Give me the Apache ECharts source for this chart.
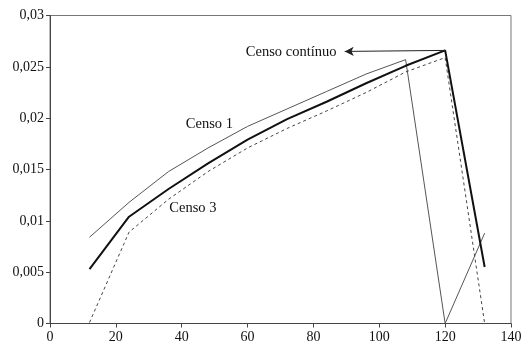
<!DOCTYPE html>
<html><head><meta charset="utf-8">
<script src="https://cdn.jsdelivr.net/npm/echarts@6/dist/echarts.min.js"></script>
<style>html,body{margin:0;padding:0;background:#fff}#c{width:527px;height:346px}</style>
</head><body><div id="c"></div>
<script>
const ages = [12, 24, 36, 48, 60, 72, 84, 96, 108, 120, 132];
const censo1 = [0.0084, 0.0118, 0.0148, 0.0171, 0.0192, 0.0209, 0.0226, 0.0243, 0.0257, 0, 0.0088];
const censoContinuo = [0.0053, 0.0104, 0.0131, 0.0156, 0.0179, 0.0199, 0.0216, 0.0234, 0.0251, 0.0266, 0.0055];
const censo3 = [0.0001, 0.0089, 0.0121, 0.0148, 0.0171, 0.0190, 0.0207, 0.0225, 0.0245, 0.0259, 0];
const xTicks = [0, 20, 40, 60, 80, 100, 120, 140];
const yTicks = [0, 0.005, 0.01, 0.015, 0.02, 0.025, 0.03];
const labelCenso1 = ['Censo 1', 48.4, 0.0194];
const labelCenso3 = ['Censo 3', 43.4, 0.0112];
const labelContinuo = ['Censo contínuo', 87, 0.0264];
const arrowFrom = [120, 0.0266];
const arrowTo = [89.5, 0.0265];

const pair = (xs, ys) => xs.map((x, i) => [x, ys[i]]);
const fmt = v => String(Math.round(v * 1000) / 1000).replace('.', ',');
const serif = '"Liberation Serif", "DejaVu Serif", serif';
const textPoint = (t, align) => ({
  coord: [t[1], t[2]], value: t[0],
  symbol: 'circle', symbolSize: 0,
  label: { show: true, position: 'inside', formatter: t[0], color: '#111', fontFamily: serif, fontSize: 14.5, align: align, verticalAlign: 'middle' }
});

const chart = echarts.init(document.getElementById('c'), null, { renderer: 'canvas' });
chart.setOption({
  animation: false,
  backgroundColor: '#fff',
  grid: { left: 50, right: 16, top: 15.5, bottom: 22.5, show: true, borderColor: '#777', borderWidth: 1 },
  xAxis: {
    type: 'value', min: xTicks[0], max: xTicks[xTicks.length - 1], interval: 20,
    axisLine: { lineStyle: { color: '#444', width: 1 } },
    axisTick: { show: true, length: 4, lineStyle: { color: '#444' } },
    splitLine: { show: false },
    axisLabel: { color: '#111', fontFamily: serif, fontSize: 14, margin: 7 }
  },
  yAxis: {
    type: 'value', min: yTicks[0], max: yTicks[yTicks.length - 1], interval: 0.005,
    axisLine: { show: true, lineStyle: { color: '#444', width: 1 } },
    axisTick: { show: true, length: 4, lineStyle: { color: '#444' } },
    splitLine: { show: false },
    axisLabel: { color: '#111', fontFamily: serif, fontSize: 14, margin: 6, formatter: fmt }
  },
  series: [
    {
      name: 'Censo 1', type: 'line', data: pair(ages, censo1), symbol: 'none',
      lineStyle: { color: '#555', width: 1 },
      markPoint: { data: [textPoint(labelCenso1, 'center')] }
    },
    {
      name: 'Censo 3', type: 'line', data: pair(ages, censo3), symbol: 'none',
      lineStyle: { color: '#444', width: 1, type: [3, 3] },
      markPoint: { data: [textPoint(labelCenso3, 'center')] }
    },
    {
      name: 'Censo contínuo', type: 'line', data: pair(ages, censoContinuo), symbol: 'none',
      lineStyle: { color: '#111', width: 2 },
      markPoint: { data: [textPoint(labelContinuo, 'right')] },
      markLine: {
        silent: true, symbol: ['none', 'arrow'], symbolSize: [7, 9],
        label: { show: false },
        lineStyle: { color: '#222', width: 1, type: 'solid' },
        data: [[{ coord: arrowFrom }, { coord: arrowTo }]]
      }
    }
  ]
});
</script></body></html>
